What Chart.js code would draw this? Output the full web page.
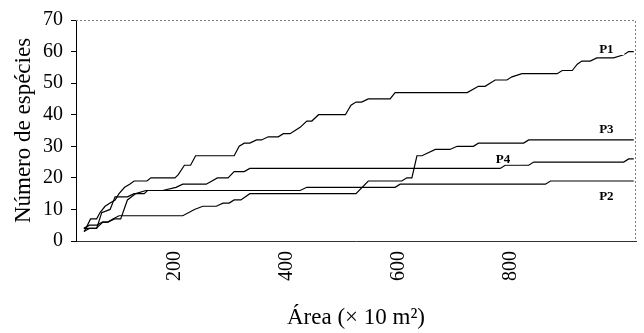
<!DOCTYPE html>
<html><head><meta charset="utf-8">
<script src="https://cdn.jsdelivr.net/npm/chart.js@4.4.0/dist/chart.umd.min.js"></script>
<style>html,body{margin:0;padding:0;background:#fff;}#wrap{width:644px;height:333px;position:relative;}</style>
</head><body><div id="wrap"><canvas id="c"></canvas></div>
<script>
// ---- data ----
const seriesNames = ['P1', 'P2', 'P3', 'P4'];

const p1Area    = [38,49,60,66,75,84,93,100,110,119,127,150,157,200,206,217,228,237,306,315,324,334,346,355,367,385,394,406,415,424,436,445,457,505,515,524,534,546,585,594,723,743,755,773,794,803,821,884,893,911,920,928,943,955,985,1003,1012,1021];
const p1Species = [3,7,7,9,11,12,13,15,17,18,19,19,20,20,21,24,24,27,27,30,31,31,32,32,33,33,34,34,35,36,38,38,40,40,43,44,44,45,45,47,47,49,49,51,51,52,53,53,54,54,56,57,57,58,58,59,60,60];

const p2Area    = [37,47,60,70,80,92,103,115,130,148,424,436,594,603,863,872,1021];
const p2Species = [4,5,5,6,6,7,7,13,15,16,16,17,17,18,18,19,19];

const p3Area    = [37,47,59,71,80,89,100,214,235,250,274,286,297,306,318,334,524,546,606,615,624,633,642,666,692,705,734,743,824,833,1021];
const p3Species = [3,4,4,6,6,7,8,8,10,11,11,12,12,13,13,15,15,19,19,20,20,27,27,29,29,30,30,31,31,32,32];

const p4Area    = [37,60,69,84,93,115,127,145,151,178,202,214,256,276,295,306,324,334,782,791,833,842,1003,1012,1021];
const p4Species = [4,4,9,10,14,14,15,15,16,16,17,18,18,20,20,22,22,23,23,24,24,25,25,26,26];

const xTickValues = [200, 400, 600, 800];
const yTickValues = [0, 10, 20, 30, 40, 50, 60, 70];

// ---- build ----
const toPoints = (xs, ys) => xs.map((x, i) => ({ x: x, y: ys[i] }));
const allSeries = [[p1Area, p1Species], [p2Area, p2Species], [p3Area, p3Species], [p4Area, p4Species]];

const serif = '"Liberation Serif", "Times New Roman", serif';

// label anchors in data units (annotation placement)
const labelAnchors = { P1: [972, 60.5], P2: [972, 14.2], P3: [972, 35.4], P4: [787, 25.9] };

const framePlugin = {
  id: 'frame',
  beforeDatasetsDraw(chart) {
    const { ctx, chartArea: a } = chart;
    ctx.save();
    ctx.strokeStyle = '#808080';
    ctx.lineWidth = 1;
    ctx.setLineDash([2, 2]);
    ctx.beginPath();
    ctx.moveTo(a.left, Math.round(a.top) + 0.5);
    ctx.lineTo(Math.round(a.right) - 0.5, Math.round(a.top) + 0.5);
    ctx.lineTo(Math.round(a.right) - 0.5, a.bottom);
    ctx.stroke();
    ctx.restore();
  },
  afterDatasetsDraw(chart) {
    const { ctx } = chart;
    const xs = chart.scales.x, ys = chart.scales.y;
    ctx.save();
    ctx.font = 'bold 13px ' + serif;
    ctx.textAlign = 'center';
    ctx.textBaseline = 'middle';
    seriesNames.forEach(n => {
      const [lx, ly] = labelAnchors[n];
      const px = xs.getPixelForValue(lx), py = ys.getPixelForValue(ly);
      ctx.fillStyle = '#fff';
      ctx.fillRect(px - 13, py - 8, 31, 13);
      ctx.fillStyle = '#000';
      ctx.fillText(n, px, py);
    });
    ctx.restore();
  }
};

new Chart(document.getElementById('c'), {
  type: 'line',
  data: {
    datasets: allSeries.map((s, i) => ({
      label: seriesNames[i],
      data: toPoints(s[0], s[1]),
      borderColor: '#000',
      borderWidth: 1.2,
      pointRadius: 0,
      tension: 0,
      fill: false
    }))
  },
  options: {
    responsive: true,
    maintainAspectRatio: false,
    animation: false,
    devicePixelRatio: 1,
    layout: { padding: { left: 0, right: 8, top: 15, bottom: 0 } },
    plugins: { legend: { display: false }, tooltip: { enabled: false } },
    scales: {
      x: {
        type: 'linear',
        min: 23,
        max: 1025,
        afterBuildTicks: s => { s.ticks = xTickValues.map(v => ({ value: v })); },
        afterFit: s => { s.height = 92; },
        grid: { display: false, drawTicks: false },
        border: { display: true, color: '#333', width: 1 },
        ticks: {
          minRotation: 90, maxRotation: 90, padding: 10,
          color: '#000',
          font: { family: serif, size: 20 }
        },
        title: {
          display: true,
          text: 'Área (× 10 m²)',
          color: '#000',
          font: { family: serif, size: 23 },
          padding: { top: 0, bottom: 1 }
        }
      },
      y: {
        type: 'linear',
        min: 0,
        max: 70,
        afterBuildTicks: s => { s.ticks = yTickValues.map(v => ({ value: v })); },
        afterFit: s => { s.width = 76; },
        grid: { display: true, drawOnChartArea: false, drawTicks: true, tickLength: 5, color: '#000' },
        border: { display: true, color: '#000', width: 1 },
        ticks: {
          padding: 8,
          color: '#000',
          font: { family: serif, size: 20 }
        },
        title: {
          display: true,
          text: 'Número de espécies',
          color: '#000',
          font: { family: serif, size: 23 },
          padding: { top: 10, bottom: 0 }
        }
      }
    }
  },
  plugins: [framePlugin]
});
</script>
</body></html>
